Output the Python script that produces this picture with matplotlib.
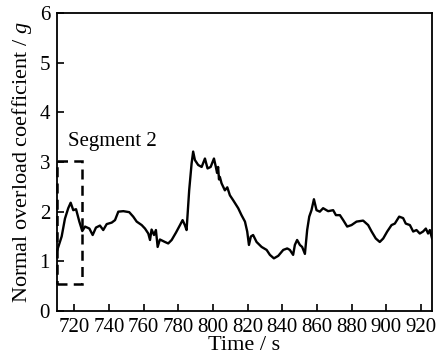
import matplotlib
matplotlib.use("Agg")
import matplotlib.pyplot as plt
from matplotlib.patches import Rectangle

# Normal overload trace, read point-by-point (time in s, overload in g)
tiempo = [710.2, 712.7, 714.6, 716.5, 717.9, 719.4, 721.0, 722.9, 724.6, 726.2,
          728.7, 730.6, 732.5, 734.8, 736.7, 738.7, 741.6, 743.5, 745.4, 748.3,
          751.7, 754.0, 756.0, 758.9, 760.8, 762.7, 763.7, 764.6, 766.0, 767.1,
          768.1, 769.4, 772.3, 774.2, 776.2, 778.7, 781.0, 782.5, 783.8, 784.8,
          786.3, 787.7, 788.6, 789.6, 791.5, 793.5, 795.4, 796.9, 798.7, 800.6,
          801.7, 802.4, 803.0, 803.5, 804.0, 805.0, 806.9, 808.3, 809.8, 811.7,
          814.6, 816.5, 818.5, 819.8, 820.8, 821.9, 823.2, 825.2, 828.1, 831.0,
          832.9, 835.2, 837.7, 840.6, 842.9, 844.4, 846.3, 847.3, 848.6, 850.2,
          851.5, 853.1, 854.4, 855.6, 856.9, 858.3, 859.8, 861.7, 863.6, 866.5,
          869.4, 871.0, 873.3, 875.2, 877.5, 880.0, 882.9, 886.7, 889.6, 891.6,
          894.0, 896.3, 898.3, 900.6, 903.1, 905.0, 907.5, 909.8, 911.3, 913.7,
          915.6, 917.5, 919.4, 921.3, 922.9, 924.2, 925.2, 926.5]
sobrecarga = [1.23, 1.50, 1.86, 2.07, 2.18, 2.03, 2.05, 1.80, 1.61, 1.70,
              1.66, 1.53, 1.68, 1.72, 1.63, 1.75, 1.78, 1.83, 2.00, 2.01,
              1.99, 1.90, 1.80, 1.73, 1.66, 1.56, 1.43, 1.64, 1.53, 1.63,
              1.29, 1.44, 1.39, 1.36, 1.43, 1.58, 1.73, 1.83, 1.73, 1.63,
              2.43, 2.97, 3.21, 3.04, 2.94, 2.90, 3.07, 2.87, 2.90, 3.07,
              2.90, 2.78, 2.90, 2.65, 2.70, 2.57, 2.43, 2.49, 2.33, 2.23,
              2.07, 1.93, 1.80, 1.60, 1.33, 1.50, 1.53, 1.39, 1.29, 1.23,
              1.13, 1.06, 1.11, 1.23, 1.26, 1.23, 1.13, 1.33, 1.43, 1.33,
              1.29, 1.15, 1.63, 1.90, 2.03, 2.25, 2.03, 2.00, 2.07, 2.01,
              2.03, 1.93, 1.93, 1.83, 1.70, 1.73, 1.80, 1.82, 1.73, 1.60,
              1.46, 1.39, 1.46, 1.60, 1.73, 1.76, 1.90, 1.87, 1.76, 1.73,
              1.60, 1.63, 1.56, 1.60, 1.66, 1.56, 1.63, 1.46]

# Segment 2 window
seg_t = [710.0, 724.6]
seg_g = [0.54, 3.02]

xticks = [720, 740, 760, 780, 800, 820, 840, 860, 880, 900, 920]
yticks = [0, 1, 2, 3, 4, 5, 6]

plt.rcParams["font.family"] = ["Liberation Serif", "DejaVu Serif"]
plt.rcParams["mathtext.fontset"] = "custom"
plt.rcParams["mathtext.it"] = "Liberation Serif:italic"
plt.rcParams["mathtext.rm"] = "Liberation Serif"

fig = plt.figure(figsize=(4.4, 3.59), dpi=100)
ax = fig.add_axes([0.1295, 0.1337, 0.8525, 0.8301])

ax.plot(tiempo, sobrecarga, color="black", linewidth=1.7)

ax.add_patch(Rectangle((seg_t[0], seg_g[0]), seg_t[1] - seg_t[0], seg_g[1] - seg_g[0],
                       fill=False, edgecolor="black", linewidth=1.8,
                       linestyle=(0, (4, 2.5)), clip_on=False))
ax.text(716.5, 3.33, "Segment 2", fontsize=15, ha="left", va="baseline")

ax.set_xlim(710, 926.5)
ax.set_ylim(0, 6)
ax.set_xticks(xticks)
ax.set_yticks(yticks)
ax.tick_params(direction="in", length=5, width=1.2, labelsize=15)
ax.tick_params(axis="x", pad=5)
ax.tick_params(axis="y", pad=5)
for s in ax.spines.values():
    s.set_linewidth(1.3)

ax.set_xlabel("Time / s", fontsize=16, labelpad=-1)
ax.set_ylabel("Normal overload coefficient / $g$", fontsize=16, labelpad=4)

fig.savefig("out.png", dpi=100)
